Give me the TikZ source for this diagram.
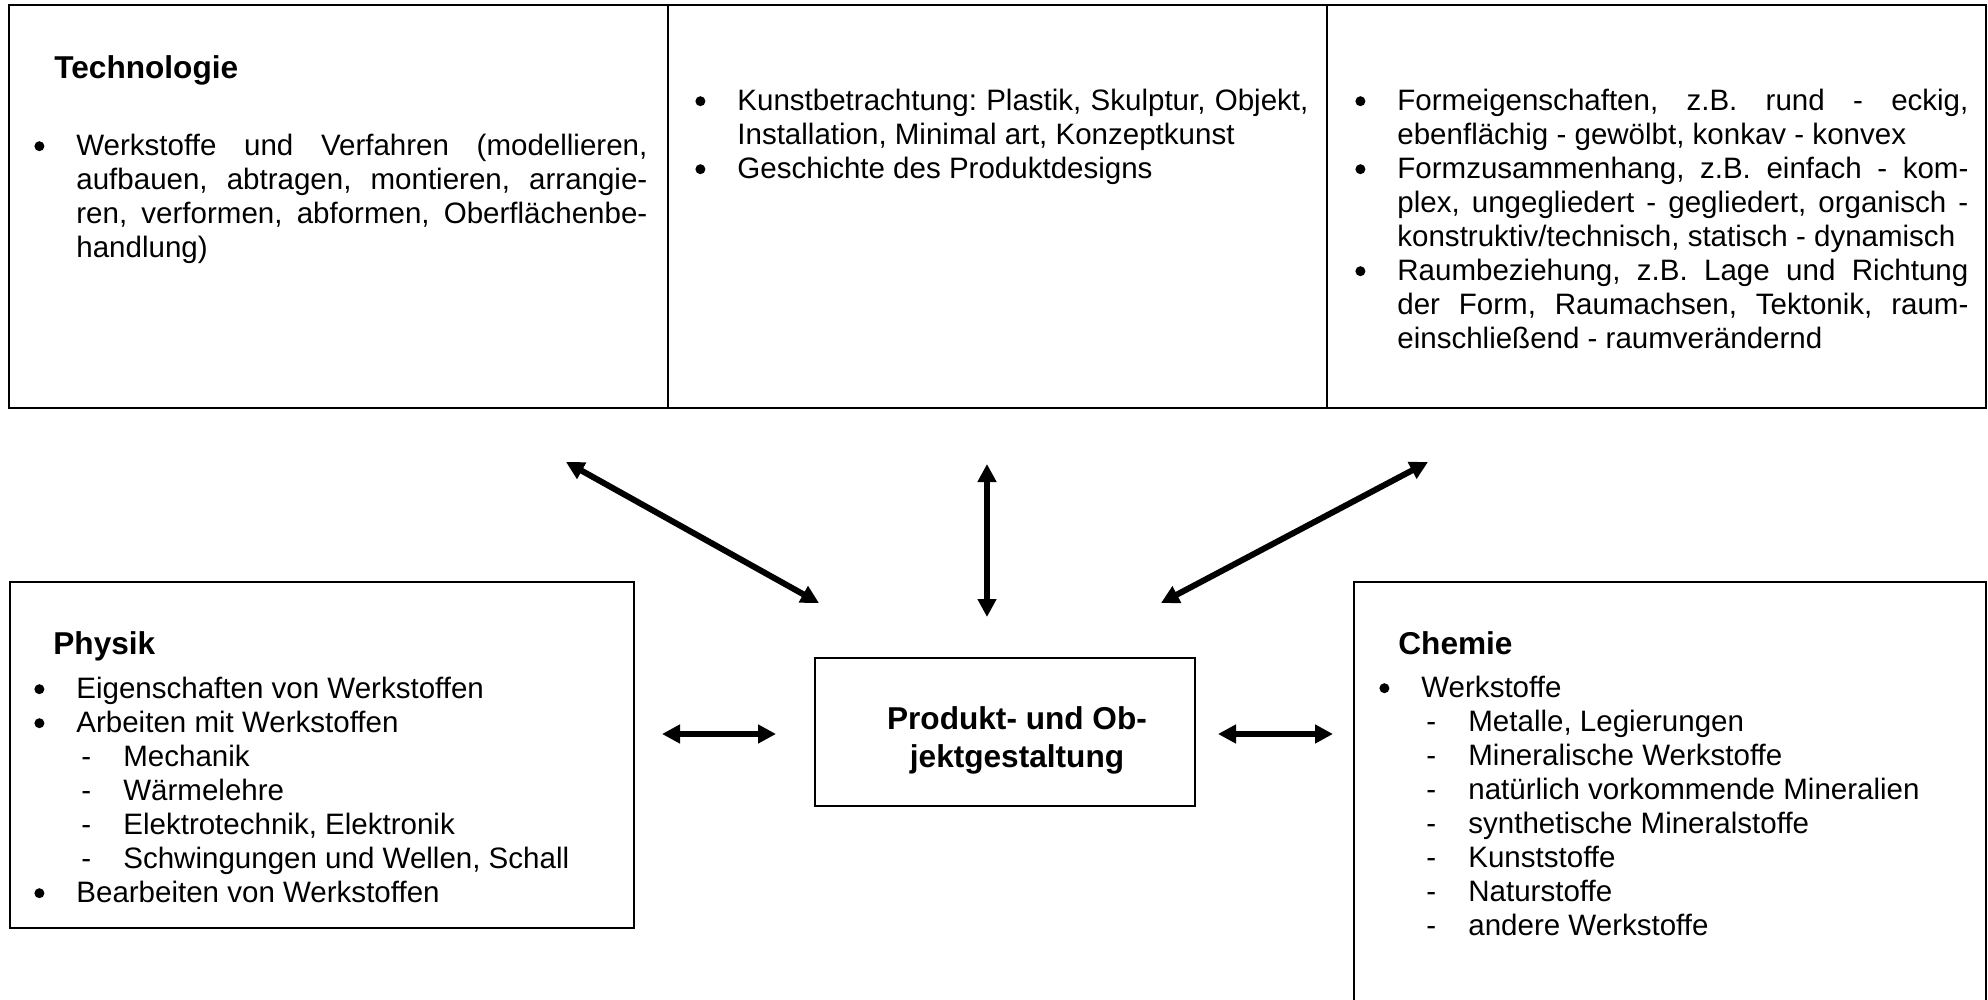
\documentclass[tikz,border=0pt]{standalone}
\usepackage{fontspec}
\setmainfont{Liberation Sans}
\usetikzlibrary{arrows.meta}
\newcommand\myJ[1]{\makebox[285.5pt][s]{\spaceskip=\fontdimen2\font plus 1fill\relax\xspaceskip=\spaceskip #1}}
\newcommand\mybul{\makebox[21.5pt][l]{\hspace*{0.5pt}\tikz[baseline=0pt]\fill (2.5pt,4.6pt) circle (2.5pt);}}
\newcommand\myind{\hspace*{21.5pt}}
\newcommand\mydash{\hspace*{21.5pt}\makebox[23.5pt][l]{\hspace*{2.5pt}-}}
\newcommand\bodyfont{\fontsize{14.76pt}{17pt}\selectfont\frenchspacing}
\newcommand\headfont{\fontsize{15.8pt}{19pt}\selectfont\bfseries}
\newcommand\topstrut{\spaceskip=0pt\xspaceskip=0pt\rule{0pt}{14pt}}
\begin{document}
\begin{tikzpicture}[x=0.5pt,y=-0.5pt,
  cell/.style={draw, line width=1.1pt, anchor=north west, inner sep=0pt},
  txt/.style={anchor=north west, inner sep=0pt, align=left, text width=307pt, font=\bodyfont},
  head/.style={anchor=base west, inner sep=0pt, font=\headfont},
  biarrow/.style={line width=3pt, {Triangle[length=9pt,width=9pt]}-{Triangle[length=9pt,width=9pt]}}]
\useasboundingbox (0,0) rectangle (1988,1000);
\fill[white] (0,0) rectangle (1988,1000);
\clip (0,0) rectangle (1988,1000);

% top table
\node[cell, minimum width=329.5pt, minimum height=201.5pt] (techcell) at (8,4) {};
\node[cell, minimum width=329.5pt, minimum height=201.5pt] (kunstcell) at (667,4) {};
\node[cell, minimum width=329.5pt, minimum height=201.5pt] (formcell) at (1326,4) {};

\node[head] (techhead) at (54,79) {Technologie};
\node[txt] (techtxt) at (33,127) {\topstrut\mybul\myJ{Werkstoffe und Verfahren (modellieren,}\\
\myind\myJ{aufbauen, abtragen, montieren, arrangie-}\\
\myind\myJ{ren, verformen, abformen, Oberflächenbe-}\\
\myind handlung)};

\node[txt] (kunsttxt) at (694,82) {\topstrut\mybul\myJ{Kunstbetrachtung: Plastik, Skulptur, Objekt,}\\
\myind Installation, Minimal art, Konzeptkunst\\
\mybul Geschichte des Produktdesigns};

\node[txt] (formtxt) at (1354,82) {\topstrut\mybul\myJ{Formeigenschaften, z.B. rund - eckig,}\\
\myind ebenflächig - gewölbt, konkav - konvex\\
\mybul\myJ{Formzusammenhang, z.B. einfach - kom-}\\
\myind\myJ{plex, ungegliedert - gegliedert, organisch -}\\
\myind konstruktiv/technisch, statisch - dynamisch\\
\mybul\myJ{Raumbeziehung, z.B. Lage und Richtung}\\
\myind\myJ{der Form, Raumachsen, Tektonik, raum-}\\
\myind einschließend - raumverändernd};

% Physik
\node[cell, minimum width=312pt, minimum height=173pt] (phybox) at (9,581) {};
\node[head] (phyhead) at (53,654) {Physik};
\node[txt] (phytxt) at (33,670) {\topstrut\mybul Eigenschaften von Werkstoffen\\
\mybul Arbeiten mit Werkstoffen\\
\mydash Mechanik\\
\mydash Wärmelehre\\
\mydash Elektrotechnik, Elektronik\\
\mydash Schwingungen und Wellen, Schall\\
\mybul Bearbeiten von Werkstoffen};

% center
\node[cell, minimum width=190pt, minimum height=74pt] (centerbox) at (814,657) {};
\node[anchor=north, inner sep=0pt, align=center, font=\headfont] (centertxt) at (1017,699) {\rule{0pt}{15pt}Produkt- und Ob-\\jektgestaltung};

% Chemie
\node[cell, minimum width=316pt, minimum height=250pt] (chebox) at (1353,581) {};
\node[head] (chehead) at (1398,654) {Chemie};
\node[txt] (chetxt) at (1378,669) {\topstrut\mybul Werkstoffe\\
\mydash Metalle, Legierungen\\
\mydash Mineralische Werkstoffe\\
\mydash natürlich vorkommende Mineralien\\
\mydash synthetische Mineralstoffe\\
\mydash Kunststoffe\\
\mydash Naturstoffe\\
\mydash andere Werkstoffe};

% arrows
\coordinate (la1) at (566,462); \coordinate (la2) at (819,603);
\coordinate (va1) at (987,464); \coordinate (va2) at (987,617);
\coordinate (ra1) at (1428,462); \coordinate (ra2) at (1161,603);
\coordinate (ha1) at (662,734); \coordinate (ha2) at (776,734);
\coordinate (hb1) at (1218,734); \coordinate (hb2) at (1333,734);
\draw[biarrow] (la1) -- (la2);
\draw[biarrow] (va1) -- (va2);
\draw[biarrow] (ra1) -- (ra2);
\draw[biarrow] (ha1) -- (ha2);
\draw[biarrow] (hb1) -- (hb2);
\end{tikzpicture}
\end{document}
